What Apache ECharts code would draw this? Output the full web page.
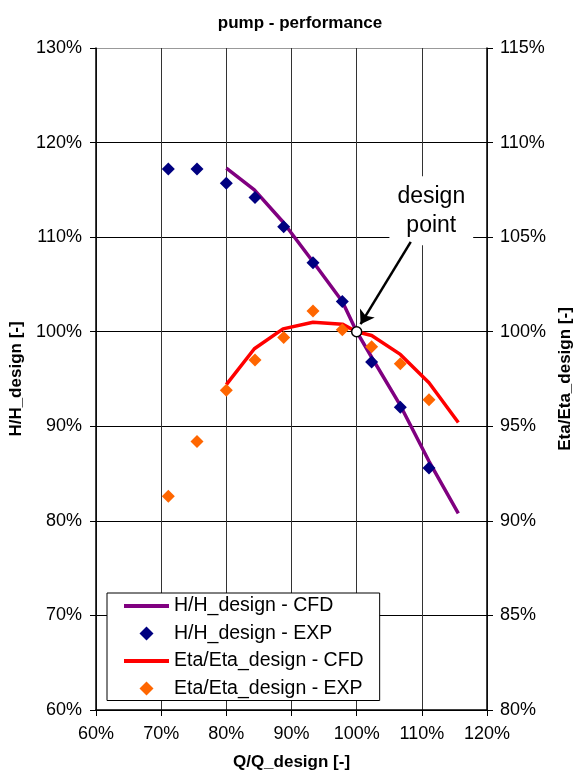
<!DOCTYPE html>
<html>
<head>
<meta charset="utf-8">
<script src="https://cdn.jsdelivr.net/npm/echarts@6/dist/echarts.min.js"></script>
<style>
  html, body { margin: 0; padding: 0; background: #fff; }
  #chart { width: 573px; height: 775px; }
</style>
</head>
<body>
<div id="chart"></div>
<script>
// Q/Q_design [%] of the measured points
const qExp = [71.1, 75.5, 80.0, 84.4, 88.8, 93.3, 97.8, 102.3, 106.7, 111.1];
const hExp = [117.2, 117.2, 115.7, 114.2, 111.1, 107.3, 103.2, 96.8, 92.0, 85.6];
const etaExp = [91.3, 94.2, 96.9, 98.5, 99.7, 101.1, 100.1, 99.2, 98.3, 96.4];

// CFD curves
const qCfd = [80.0, 84.3, 88.7, 93.3, 97.8, 100.0, 102.3, 106.7, 111.1, 115.6];
const hCfd = [117.3, 115.0, 111.6, 107.4, 103.2, 100.0, 97.3, 92.2, 86.3, 80.8];
const etaCfd = [97.2, 99.1, 100.15, 100.5, 100.4, 100.0, 99.8, 98.8, 97.3, 95.2];

const designPoint = [100, 100];
const arrowFrom = [108.3, 109.5];
const arrowTo = [100.6, 100.8];
const labelAt = [111.45, 112.8];

const FONT = "'Liberation Sans', Arial, sans-serif";

// legend icons (kept to aspect inside the 45x14 item box)
const lineIcon = 'path://M0,0 L45,0 L45,4 L0,4 Z';
const diamondIcon = 'path://M7,0 L14,7 L7,14 L0,7 Z';

const pairs = (xs, ys) => xs.map((x, i) => [x, ys[i]]);

const chart = echarts.init(document.getElementById('chart'));

const option = {
  animation: false,
  backgroundColor: '#fff',
  textStyle: { fontFamily: FONT },
  title: {
    text: 'pump - performance',
    left: 295,
    top: 10,
    textAlign: 'center',
    textStyle: { fontFamily: FONT, fontSize: 17, fontWeight: 'bold', color: '#000' }
  },
  grid: { left: 96, right: 86, top: 48, bottom: 65, outerBoundsMode: 'none', containLabel: false },
  legend: {
    orient: 'vertical',
    left: 107,
    top: 593,
    backgroundColor: '#fff',
    borderColor: '#000',
    borderWidth: 1,
    borderRadius: 0,
    padding: [3, 16, 2, 17],
    itemGap: 7.5,
    itemWidth: 45,
    itemHeight: 14,
    symbolKeepAspect: true,
    textStyle: { fontFamily: FONT, fontSize: 19.5, color: '#000', lineHeight: 20 },
    data: [
      { name: 'H/H_design - CFD', icon: lineIcon },
      { name: 'H/H_design - EXP', icon: diamondIcon },
      { name: 'Eta/Eta_design - CFD', icon: lineIcon },
      { name: 'Eta/Eta_design - EXP', icon: diamondIcon }
    ]
  },
  xAxis: {
    type: 'value',
    min: 60,
    max: 120,
    interval: 10,
    name: 'Q/Q_design [-]',
    nameLocation: 'middle',
    nameGap: 44,
    nameTextStyle: { fontFamily: FONT, fontSize: 17, fontWeight: 'bold', color: '#000' },
    axisLine: { lineStyle: { color: '#000', width: 1.5 } },
    axisTick: { length: 6, lineStyle: { color: '#000' } },
    axisLabel: { formatter: '{value}%', fontSize: 18, color: '#000', margin: 15 },
    splitLine: { show: true, lineStyle: { color: '#333', width: 1 } }
  },
  yAxis: [
    {
      type: 'value',
      min: 60,
      max: 130,
      interval: 10,
      name: 'H/H_design [-]',
      nameLocation: 'middle',
      nameRotate: 90,
      nameGap: 68,
      nameTextStyle: { fontFamily: FONT, fontSize: 17, fontWeight: 'bold', color: '#000' },
      axisLine: { show: true, lineStyle: { color: '#000', width: 1.5 } },
      axisTick: { show: true, length: 6, lineStyle: { color: '#000' } },
      axisLabel: { formatter: '{value}%', fontSize: 18, color: '#000', margin: 14 },
      splitLine: {
        show: true,
        lineStyle: { color: ['#000', '#000', '#000', '#000', '#000', '#000', '#000', '#999'], width: 1 }
      }
    },
    {
      type: 'value',
      min: 80,
      max: 115,
      interval: 5,
      position: 'right',
      name: 'Eta/Eta_design [-]',
      nameLocation: 'middle',
      nameRotate: 90,
      nameGap: 64,
      nameTextStyle: { fontFamily: FONT, fontSize: 17, fontWeight: 'bold', color: '#000' },
      axisLine: { show: true, lineStyle: { color: '#000', width: 1.5 } },
      axisTick: { show: true, length: 6, lineStyle: { color: '#000' } },
      axisLabel: { formatter: '{value}%', fontSize: 18, color: '#000', margin: 13 },
      splitLine: { show: false }
    }
  ],
  series: [
    {
      name: 'H/H_design - CFD',
      type: 'line',
      yAxisIndex: 0,
      data: pairs(qCfd, hCfd),
      symbol: 'none',
      color: '#800080',
      lineStyle: { color: '#800080', width: 3.5 },
      z: 2
    },
    {
      name: 'H/H_design - EXP',
      type: 'scatter',
      yAxisIndex: 0,
      data: pairs(qExp, hExp),
      symbol: 'diamond',
      symbolSize: 13,
      itemStyle: { color: '#000080', opacity: 1 },
      z: 3
    },
    {
      name: 'Eta/Eta_design - CFD',
      type: 'line',
      yAxisIndex: 1,
      data: pairs(qCfd, etaCfd),
      symbol: 'none',
      color: '#ff0000',
      lineStyle: { color: '#ff0000', width: 3.5 },
      z: 2
    },
    {
      name: 'Eta/Eta_design - EXP',
      type: 'scatter',
      yAxisIndex: 1,
      data: pairs(qExp, etaExp),
      symbol: 'diamond',
      symbolSize: 13,
      itemStyle: { color: '#ff6600', opacity: 1 },
      z: 3
    },
    {
      name: 'design point',
      type: 'scatter',
      yAxisIndex: 0,
      data: [designPoint],
      symbol: 'circle',
      symbolSize: 10,
      itemStyle: { color: '#fff', borderColor: '#000', borderWidth: 1.5, opacity: 1 },
      z: 6,
      silent: true,
      markLine: {
        silent: true,
        symbol: ['none', 'arrow'],
        symbolSize: 13,
        label: { show: false },
        lineStyle: { color: '#000', width: 2.5, type: 'solid' },
        data: [[{ coord: arrowFrom }, { coord: arrowTo }]],
        z: 5
      },
      markPoint: {
        silent: true,
        symbol: 'rect',
        symbolSize: 0,
        label: {
          show: true,
          position: 'inside',
          formatter: 'design\npoint',
          fontFamily: FONT,
          fontSize: 23,
          lineHeight: 29,
          color: '#000',
          backgroundColor: '#fff',
          padding: [3, 8, 8, 8],
          align: 'center'
        },
        data: [{ coord: labelAt }],
        z: 4
      }
    }
  ]
};

chart.setOption(option);
</script>
</body>
</html>
